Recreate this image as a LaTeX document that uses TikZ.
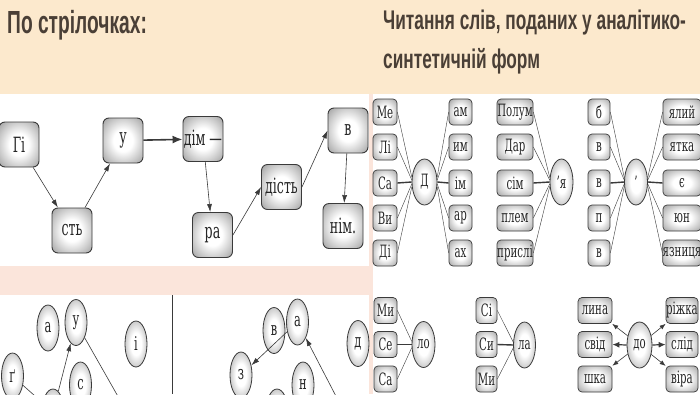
\documentclass[tikz,border=0pt]{standalone}
\usepackage{fontspec}
\setmainfont{DejaVu Serif}
\newfontfamily\headfont{Liberation Sans}[FakeStretch=0.6]
\newfontfamily\subheadfont{Liberation Sans}[FakeStretch=0.64]
\newfontfamily\boxfont{DejaVu Serif}[FakeStretch=0.6]
\usetikzlibrary{arrows.meta,shapes.geometric}

\definecolor{headbg}{HTML}{FCE9CD}
\definecolor{headtxt}{HTML}{4A3F36}
\definecolor{bandbg}{HTML}{FBE5DB}
\definecolor{edge}{HTML}{3A3A3A}
\pgfdeclareradialshading{glow}{\pgfpoint{0bp}{0bp}}{color(0bp)=(white); color(12bp)=(white);
  color(26bp)=(black!22); color(38bp)=(black!42); color(50bp)=(black!55)}

\tikzset{
  card/.style={draw=edge, line width=0.9pt, rounded corners=6pt, shade, shading=glow,
    inner sep=0pt, text=black!85, font=\boxfont\fontsize{21}{21}\selectfont},
  bigcard/.style={card, minimum width=40pt, minimum height=45pt},
  tag/.style={card, line width=0.7pt, rounded corners=4pt, minimum height=26pt,
    font=\boxfont\fontsize{17}{17}\selectfont},
  hub/.style={ellipse, draw=edge, line width=0.8pt, shade, shading=glow,
    minimum width=24pt, minimum height=46pt, inner sep=0pt,
    text=black!85, font=\boxfont\fontsize{17}{17}\selectfont},
  ball/.style={hub, minimum width=22pt, font=\boxfont\fontsize{19}{19}\selectfont},
  ray/.style={draw=edge, line width=0.4pt},
  mainray/.style={draw=edge, line width=1.4pt},
  pointer/.style={draw=edge, line width=0.6pt, -{Latex[length=8pt,width=5pt]}},
  heading/.style={anchor=base west, inner sep=0pt, text=headtxt},
}

\begin{document}
\begin{tikzpicture}[x=1pt,y=-1pt]
  \useasboundingbox (0,0) rectangle (700,394);
  \clip (0,0) rectangle (700,394);
  % backgrounds
  \fill[white] (0,0) rectangle (700,394);
  \fill[headbg] (0,0) rectangle (700,94);
  \fill[bandbg] (0,266) rectangle (369,295);
  \fill[bandbg] (369,94) rectangle (372.5,394);
  \draw[edge, line width=0.8pt] (172,295) -- (172,394);

  % headings
  \node[heading, font=\headfont\bfseries\fontsize{32}{32}\selectfont] (lefthead) at (7,33) {По стрілочках:};
  \node[heading, font=\subheadfont\bfseries\fontsize{27}{27}\selectfont] (righthead) at (383,29)
    {Читання слів, поданих у аналітико-};
  \node[heading, font=\subheadfont\bfseries\fontsize{27}{27}\selectfont] (righthead2) at (383,68)
    {синтетичній форм};

  % by the arrows
  \node[bigcard] (gi) at (19,144.5) {Гі};
  \node[bigcard] (st) at (72,230.5) {сть};
  \node[bigcard] (u) at (123,140.5) {у};
  \node[bigcard] (dim) at (203,139) {дім —};
  \node[bigcard] (ra) at (212.5,235) {ра};
  \node[bigcard] (dist) at (281.5,187) {дість};
  \node[bigcard] (v) at (348,130.5) {в};
  \node[bigcard] (nim) at (343,226) {нім.};
  \draw[pointer] (gi) -- (st);
  \draw[pointer] (st) -- (u);
  \draw[pointer, line width=1.6pt, -{Latex[length=10pt,width=8pt]}] (u) -- (dim);
  \draw[pointer] (dim) -- (ra);
  \draw[pointer] (ra.east) -- (dist.west);
  \draw[pointer] (dist.east) -- (v.west);
  \draw[pointer] (v) -- (nim);

  % letters, left part
  \node[ball] (a1) at (48,328) {а};
  \node[ball] (u1) at (76,322.5) {у};
  \node[ball] (i1) at (136,344) {і};
  \node[ball] (g1) at (12.5,376) {ґ};
  \node[ball] (s1) at (80.5,385) {с};
  \node[ball] (h1) at (53,412) {};
  \coordinate (e1) at (124,407);
  \draw[pointer] (g1) -- (h1);
  \draw[pointer] (h1) -- (u1);
  \draw[pointer] (u1) -- (e1);

  % letters, right part
  \node[ball] (v2) at (274,330.5) {в};
  \node[ball] (a2) at (297.5,322) {а};
  \node[ball] (d2) at (358,343.5) {д};
  \node[ball] (z2) at (241,375) {з};
  \node[ball] (n2) at (303,385) {н};
  \node[ball] (h2) at (277,412) {};
  \coordinate (e2) at (339,402);
  \draw[pointer] (a2) -- (z2);
  \draw[pointer] (e2) -- (a2);

  % group: D
  \node[tag, minimum width=24pt] (dl1) at (385,112) {Ме};
  \node[tag, minimum width=24pt] (dl2) at (385,147) {Лі};
  \node[tag, minimum width=24pt] (dl3) at (385,183) {Са};
  \node[tag, minimum width=24pt] (dl4) at (385,218) {Ви};
  \node[tag, minimum width=24pt] (dl5) at (385,253) {Ді};
  \node[hub, minimum width=25pt] (dd) at (424.5,182) {Д};
  \node[tag, minimum width=23pt] (dr1) at (460.5,112) {ам};
  \node[tag, minimum width=23pt] (dr2) at (460.5,147) {им};
  \node[tag, minimum width=23pt] (dr3) at (460.5,183) {ім};
  \node[tag, minimum width=23pt] (dr4) at (460.5,218) {ар};
  \node[tag, minimum width=23pt] (dr5) at (460.5,253) {ах};
  \draw[ray] (dl1.east) -- (dd.160);
  \draw[ray] (dl2.east) -- (dd.170);
  \draw[mainray] (dl3.east) -- (dd.west);
  \draw[ray] (dl4.east) -- (dd.190);
  \draw[ray] (dl5.east) -- (dd.200);
  \draw[ray] (dd.20) -- (dr1.west);
  \draw[ray] (dd.10) -- (dr2.west);
  \draw[mainray] (dd.east) -- (dr3.west);
  \draw[ray] (dd.-10) -- (dr4.west);
  \draw[ray] (dd.-20) -- (dr5.west);

  % group: 'я
  \node[tag, minimum width=36pt] (yl1) at (515,112) {Полум};
  \node[tag, minimum width=36pt] (yl2) at (515,147) {Дар};
  \node[tag, minimum width=36pt] (yl3) at (515,183) {сім};
  \node[tag, minimum width=36pt] (yl4) at (515,218) {плем};
  \node[tag, minimum width=36pt] (yl5) at (515,253) {прислі};
  \node[hub, minimum width=23pt] (yy) at (561.5,182) {’я};
  \draw[ray] (yl1.east) -- (yy.160);
  \draw[ray] (yl2.east) -- (yy.170);
  \draw[mainray] (yl3.east) -- (yy.west);
  \draw[ray] (yl4.east) -- (yy.190);
  \draw[ray] (yl5.east) -- (yy.200);

  % group: apostrophe
  \node[tag, minimum width=22pt] (pl1) at (599,112) {б};
  \node[tag, minimum width=22pt] (pl2) at (599,147) {в};
  \node[tag, minimum width=22pt] (pl3) at (599,183) {в};
  \node[tag, minimum width=22pt] (pl4) at (599,218) {п};
  \node[tag, minimum width=22pt] (pl5) at (599,253) {в};
  \node[hub, minimum width=23pt] (pp) at (636,182) {’};
  \node[tag, minimum width=38pt] (pr1) at (682,112) {ялий};
  \node[tag, minimum width=38pt] (pr2) at (682,147) {ятка};
  \node[tag, minimum width=38pt] (pr3) at (682,183) {є};
  \node[tag, minimum width=38pt] (pr4) at (682,218) {юн};
  \node[tag, minimum width=38pt] (pr5) at (682,253) {язниця};
  \draw[ray] (pl1.east) -- (pp.160);
  \draw[ray] (pl2.east) -- (pp.170);
  \draw[mainray] (pl3.east) -- (pp.west);
  \draw[ray] (pl4.east) -- (pp.190);
  \draw[ray] (pl5.east) -- (pp.200);
  \draw[ray] (pp.20) -- (pr1.west);
  \draw[ray] (pp.10) -- (pr2.west);
  \draw[mainray] (pp.east) -- (pr3.west);
  \draw[ray] (pp.-10) -- (pr4.west);
  \draw[ray] (pp.-20) -- (pr5.west);

  % group: ло
  \node[tag, minimum width=23pt] (ol1) at (385.5,310.5) {Ми};
  \node[tag, minimum width=23pt] (ol2) at (385.5,344.5) {Се};
  \node[tag, minimum width=23pt] (ol3) at (385.5,379) {Са};
  \node[hub, minimum width=23pt] (oo) at (423.5,344.5) {ло};
  \draw[ray] (ol1.east) -- (oo.165);
  \draw[mainray] (ol2.east) -- (oo.west);
  \draw[ray] (ol3.east) -- (oo.195);

  % group: ла
  \node[tag, minimum width=21pt] (al1) at (486.5,310.5) {Сі};
  \node[tag, minimum width=21pt] (al2) at (486.5,344.5) {Си};
  \node[tag, minimum width=21pt] (al3) at (486.5,379) {Ми};
  \node[hub, minimum width=22pt] (aa) at (524.5,345) {ла};
  \draw[ray] (al1.east) -- (aa.165);
  \draw[mainray] (al2.east) -- (aa.west);
  \draw[ray] (al3.east) -- (aa.195);

  % group: до
  \node[tag, minimum width=34pt] (ql1) at (595,310.5) {лина};
  \node[tag, minimum width=34pt] (ql2) at (595,344.5) {свід};
  \node[tag, minimum width=34pt] (ql3) at (595,379) {шка};
  \node[hub, minimum width=25pt] (qq) at (639.5,345) {до};
  \node[tag, minimum width=32pt] (qr1) at (682,310.5) {ріжка};
  \node[tag, minimum width=32pt] (qr2) at (682,344.5) {слід};
  \node[tag, minimum width=32pt] (qr3) at (682,379) {віра};
  \draw[pointer, -{Latex[length=6pt,width=4.5pt]}] (qq) -- (ql1);
  \draw[pointer, line width=1.2pt, -{Latex[length=7pt,width=6pt]}] (qq.west) -- (ql2.east);
  \draw[pointer, -{Latex[length=6pt,width=4.5pt]}] (qq) -- (ql3);
  \draw[pointer, -{Latex[length=6pt,width=4.5pt]}] (qq) -- (qr1);
  \draw[pointer, line width=1.2pt, -{Latex[length=7pt,width=6pt]}] (qq.east) -- (qr2.west);
  \draw[pointer, -{Latex[length=6pt,width=4.5pt]}] (qq) -- (qr3);
\end{tikzpicture}
\end{document}
